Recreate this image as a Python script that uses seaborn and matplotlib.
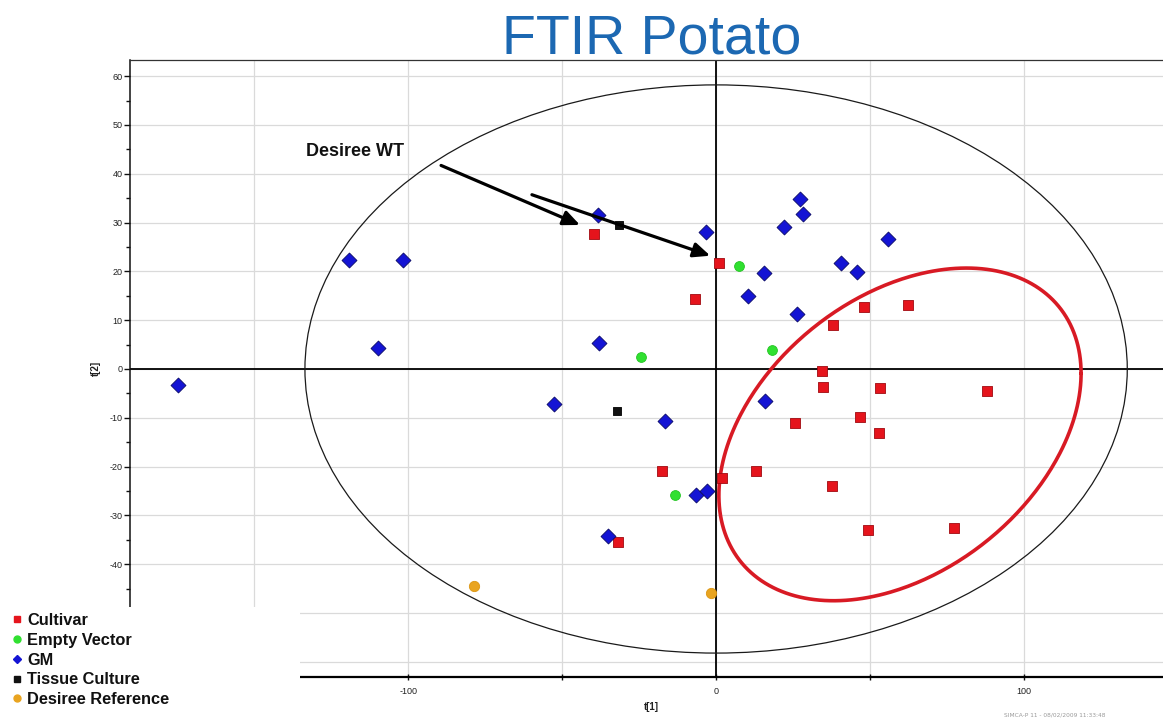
import numpy as np
import pandas as pd
import matplotlib
matplotlib.use("Agg")
import matplotlib.pyplot as plt
from matplotlib.patches import Ellipse, Rectangle
from matplotlib.lines import Line2D
from matplotlib.ticker import MultipleLocator, FixedLocator
import seaborn as sns

# ---- PCA scores (t[1], t[2]) per sample group ----
groups = ["Cultivar", "Empty Vector", "GM", "Tissue Culture", "Desiree Reference"]

cultivar_t1 = [-39.6, 0.9, -6.8, 48.1, 62.2, 37.9, 34.4, 34.8, 53.3, 87.9,
               46.6, 25.5, 52.8, -17.6, 12.9, 2.0, 37.6, 49.3, 77.4, -31.9]
cultivar_t2 = [27.6, 21.7, 14.3, 12.8, 13.1, 9.0, -0.4, -3.7, -3.8, -4.6,
               -9.9, -11.1, -13.2, -20.8, -20.9, -22.3, -24.0, -33.0, -32.6, -35.4]

empty_vector_t1 = [7.4, -24.4, 18.1, -13.5]
empty_vector_t2 = [21.1, 2.5, 3.8, -25.8]

gm_t1 = [-174.7, -119.3, -101.7, -109.8, -38.4, -38.0, -3.2, 10.5, 27.4, 28.2, 22.1,
         55.7, 40.4, 45.8, 15.7, 26.4, 15.8, -52.7, -16.6, -6.4, -3.0, -35.1]
gm_t2 = [-3.3, 22.3, 22.4, 4.4, 31.6, 5.3, 28.1, 15.0, 34.8, 31.8, 29.0,
         26.6, 21.7, 19.9, 19.6, 11.3, -6.6, -7.2, -10.6, -25.8, -25.0, -34.3]

tissue_culture_t1 = [-31.6, -32.3]
tissue_culture_t2 = [29.4, -8.7]

desiree_ref_t1 = [-78.6, -1.6]
desiree_ref_t2 = [-44.5, -45.9]

series = {
    "Cultivar": (cultivar_t1, cultivar_t2),
    "Empty Vector": (empty_vector_t1, empty_vector_t2),
    "GM": (gm_t1, gm_t2),
    "Tissue Culture": (tissue_culture_t1, tissue_culture_t2),
    "Desiree Reference": (desiree_ref_t1, desiree_ref_t2),
}
df = pd.concat(
    [pd.DataFrame({"t1": t1, "t2": t2, "group": g}) for g, (t1, t2) in series.items()],
    ignore_index=True,
)

styles = {
    "Cultivar": dict(color="#E5141C", marker="s", s=42, edgecolor="#A00A10"),
    "Empty Vector": dict(color="#30E030", marker="o", s=50, edgecolor="#24C424"),
    "GM": dict(color="#1414D4", marker="D", s=58, edgecolor="#0A0A66"),
    "Tissue Culture": dict(color="#111111", marker="s", s=36, edgecolor="#000000"),
    "Desiree Reference": dict(color="#E9A420", marker="o", s=55, edgecolor="#DC9612"),
}

sns.set_theme(style="white")
plt.rcParams["font.family"] = ["Liberation Sans", "DejaVu Sans"]
plt.rcParams["axes.unicode_minus"] = False

W, H = 1163, 720
fig = plt.figure(figsize=(W / 100, H / 100), dpi=100)
fig.patch.set_facecolor("white")
ax = fig.add_axes([130 / W, 43 / H, (W - 130) / W, 617 / H])
ax.set_facecolor("white")

ax.set_xlim(-190.3, 145.1)
ax.set_ylim(-63.1, 63.3)

# ticks and grid
ax.xaxis.set_major_locator(FixedLocator([-100, 0, 100]))
ax.xaxis.set_minor_locator(FixedLocator([-150, -50, 50]))
ax.yaxis.set_major_locator(MultipleLocator(10))
ax.yaxis.set_minor_locator(MultipleLocator(5))
ax.xaxis.grid(True, which="both", color="#DADADA", lw=0.9)
ax.yaxis.grid(True, which="major", color="#DADADA", lw=0.9)
ax.set_axisbelow(True)
ax.tick_params(axis="both", which="both", labelsize=6.5, labelcolor="#222222",
               color="#111111", width=1.0)
ax.tick_params(axis="y", which="major", direction="out", length=4, pad=1.5)
ax.tick_params(axis="y", which="minor", direction="out", length=3)
ax.tick_params(axis="x", which="both", direction="inout", length=5, pad=5)
ax.tick_params(left=True, bottom=True, which="both")

for side in ["left", "bottom", "top"]:
    ax.spines[side].set_visible(True)
ax.spines["right"].set_visible(False)
ax.spines["left"].set_color("#111111")
ax.spines["left"].set_linewidth(1.1)
ax.spines["bottom"].set_color("#000000")
ax.spines["bottom"].set_linewidth(1.6)
ax.spines["top"].set_color("#333333")
ax.spines["top"].set_linewidth(0.9)

# origin lines
ax.axhline(0, color="#000000", lw=1.3, zorder=2)
ax.axvline(0, color="#000000", lw=1.3, zorder=2)

# Hotelling T2 (95%) ellipse
ax.add_patch(Ellipse((0, 0), width=2 * 133.5, height=2 * 58.2, fill=False,
                     ec="#1A1A1A", lw=0.9, zorder=2))

# highlighted cultivar cluster
cx, cy = 59.7, -13.4
ux, uy, vy = 58.8, 12.5, 31.7
tt = np.linspace(0, 2 * np.pi, 400)
ax.plot(cx + ux * np.cos(tt), cy + uy * np.cos(tt) + vy * np.sin(tt),
        color="#D81A24", lw=2.6, zorder=3, solid_capstyle="round")

# scores
for g in groups:
    sub = df[df["group"] == g]
    sns.scatterplot(data=sub, x="t1", y="t2", ax=ax, legend=False,
                    linewidth=0.6, zorder=4, **styles[g])

ax.set_xlabel("t[1]", fontsize=7, fontweight="bold", color="#222222")
ax.set_ylabel("t[2]", fontsize=7, fontweight="bold", color="#222222")
ax.xaxis.set_label_coords(0.505, -0.040)
ax.yaxis.set_label_coords(-0.028, 0.5)

# Desiree WT callout
ax.text(-133.2, 44.5, "Desiree WT", ha="left", va="center", fontsize=13,
        fontweight="bold", color="#111111", zorder=6)
arrow_kw = dict(arrowstyle="-|>,head_length=0.5,head_width=0.22", color="#000000",
                lw=2.3, mutation_scale=20, shrinkA=0, shrinkB=0)
ax.annotate("", xy=(-44.2, 29.5), xytext=(-89.3, 41.7), arrowprops=arrow_kw, zorder=6)
ax.annotate("", xy=(-1.9, 23.2), xytext=(-59.8, 35.7), arrowprops=arrow_kw, zorder=6)

# title
fig.text(652 / W, 1 - 53 / H, "FTIR Potato", ha="center", va="baseline",
         fontsize=40, color="#1C68B2")

# legend panel in the lower-left corner
fig.patches.append(Rectangle((0, 0), 300 / W, (H - 607) / H, transform=fig.transFigure,
                             facecolor="white", edgecolor="none", zorder=5))
handles = [
    Line2D([], [], linestyle="none", marker=styles[g]["marker"],
           markerfacecolor=styles[g]["color"], markeredgecolor=styles[g]["color"],
           markersize=5 if styles[g]["marker"] != "D" else 4.5)
    for g in groups
]
leg = fig.legend(handles, groups, loc="upper left", bbox_to_anchor=(11 / W, 1 - 613 / H),
                 bbox_transform=fig.transFigure, frameon=False,
                 prop=dict(weight="bold", size=11.8), handlelength=0.7,
                 handletextpad=0.3, labelspacing=0.29, borderpad=0, borderaxespad=0)
for t in leg.get_texts():
    t.set_color("#111111")
leg.set_zorder(7)

# software stamp
fig.text(1055 / W, 1 - 715 / H, "SIMCA-P 11 - 08/02/2009 11:33:48", ha="center",
         va="center", fontsize=4.2, color="#9A9A9A", family="DejaVu Sans")

fig.savefig("out.png", dpi=100, facecolor="white")
